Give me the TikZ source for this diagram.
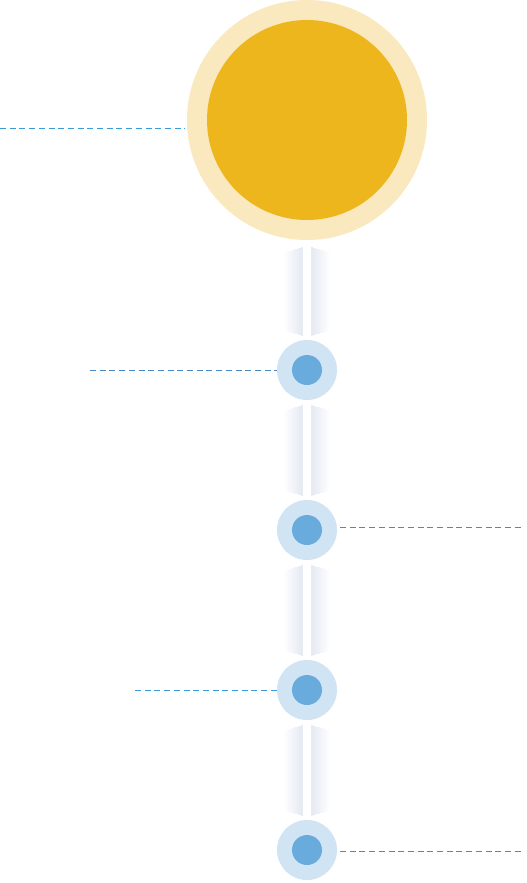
\documentclass[tikz,border=0pt]{standalone}
\definecolor{sunouter}{HTML}{FAE8BE}
\definecolor{suninner}{HTML}{EDB61C}
\definecolor{dotouter}{HTML}{D0E4F4}
\definecolor{dotinner}{HTML}{6AABDD}
\definecolor{dashblue}{HTML}{3A9AD9}
\definecolor{dashgray}{HTML}{4A8AC4}
\definecolor{glowcol}{HTML}{94A6CC}
\begin{document}
\begin{tikzpicture}[x=1pt,y=-1pt,
  sunring/.style={circle, fill=sunouter, minimum size=240pt, inner sep=0pt, draw=none},
  suncore/.style={circle, fill=suninner, minimum size=200pt, inner sep=0pt, draw=none},
  dotring/.style={circle, fill=dotouter, minimum size=60pt, inner sep=0pt, draw=none},
  dotcore/.style={circle, fill=dotinner, minimum size=30pt, inner sep=0pt, draw=none},
  leader/.style={line width=1pt, dash pattern=on 6pt off 3.7pt},
  glowline/.style={line cap=butt},
  bar/.style={white, line width=8pt, line cap=butt}]
\useasboundingbox[fill=white] (0,0) rectangle (527,883);

\node[sunring] (sun) at (307,120) {};
\node[suncore] (core) at (sun.center) {};
\foreach \i/\y in {1/370,2/530,3/690,4/850}{
  \node[dotring] (d\i) at (307,\y) {};
  \node[dotcore] (c\i) at (d\i.center) {};
}

% connectors
\path (sun.south) ++(0,7) coordinate (a1);
\path (d1.north) ++(0,-4) coordinate (b1);
\path (d1.south) ++(0,5) coordinate (a2);
\path (d2.north) ++(0,-4) coordinate (b2);
\path (d2.south) ++(0,5) coordinate (a3);
\path (d3.north) ++(0,-4) coordinate (b3);
\path (d3.south) ++(0,5) coordinate (a4);
\path (d4.north) ++(0,-4) coordinate (b4);
\foreach \i in {1,2,3,4}{
  \foreach \k in {0,...,17}{
    \pgfmathsetmacro{\w}{46-2*\k}
    \pgfmathsetmacro{\p}{1.3*(\k+1)}
    \pgfmathsetmacro{\sh}{(36-2*\k)/7}
    \draw[glowline, draw=glowcol!\p!white, line width=\w pt, shorten <=\sh pt, shorten >=\sh pt] (a\i) -- (b\i);
  }
  \draw[bar] (a\i) -- (b\i);
}

% leader lines
\coordinate (s1) at (0,128);
\coordinate (e1) at (185,128);
\draw[leader, dashblue] (s1) -- (e1);
\coordinate (s2) at (90,370);
\draw[leader, dashgray] (s2) -- (d1.west);
\coordinate (s3) at (340,527);
\coordinate (e3) at (523,527);
\draw[leader, dashgray] (s3) -- (e3);
\coordinate (s4) at (135,690);
\draw[leader, dashblue] (s4) -- (d3.west);
\coordinate (s5) at (340,851);
\coordinate (e5) at (523,851);
\draw[leader, dashgray] (s5) -- (e5);
\end{tikzpicture}
\end{document}
